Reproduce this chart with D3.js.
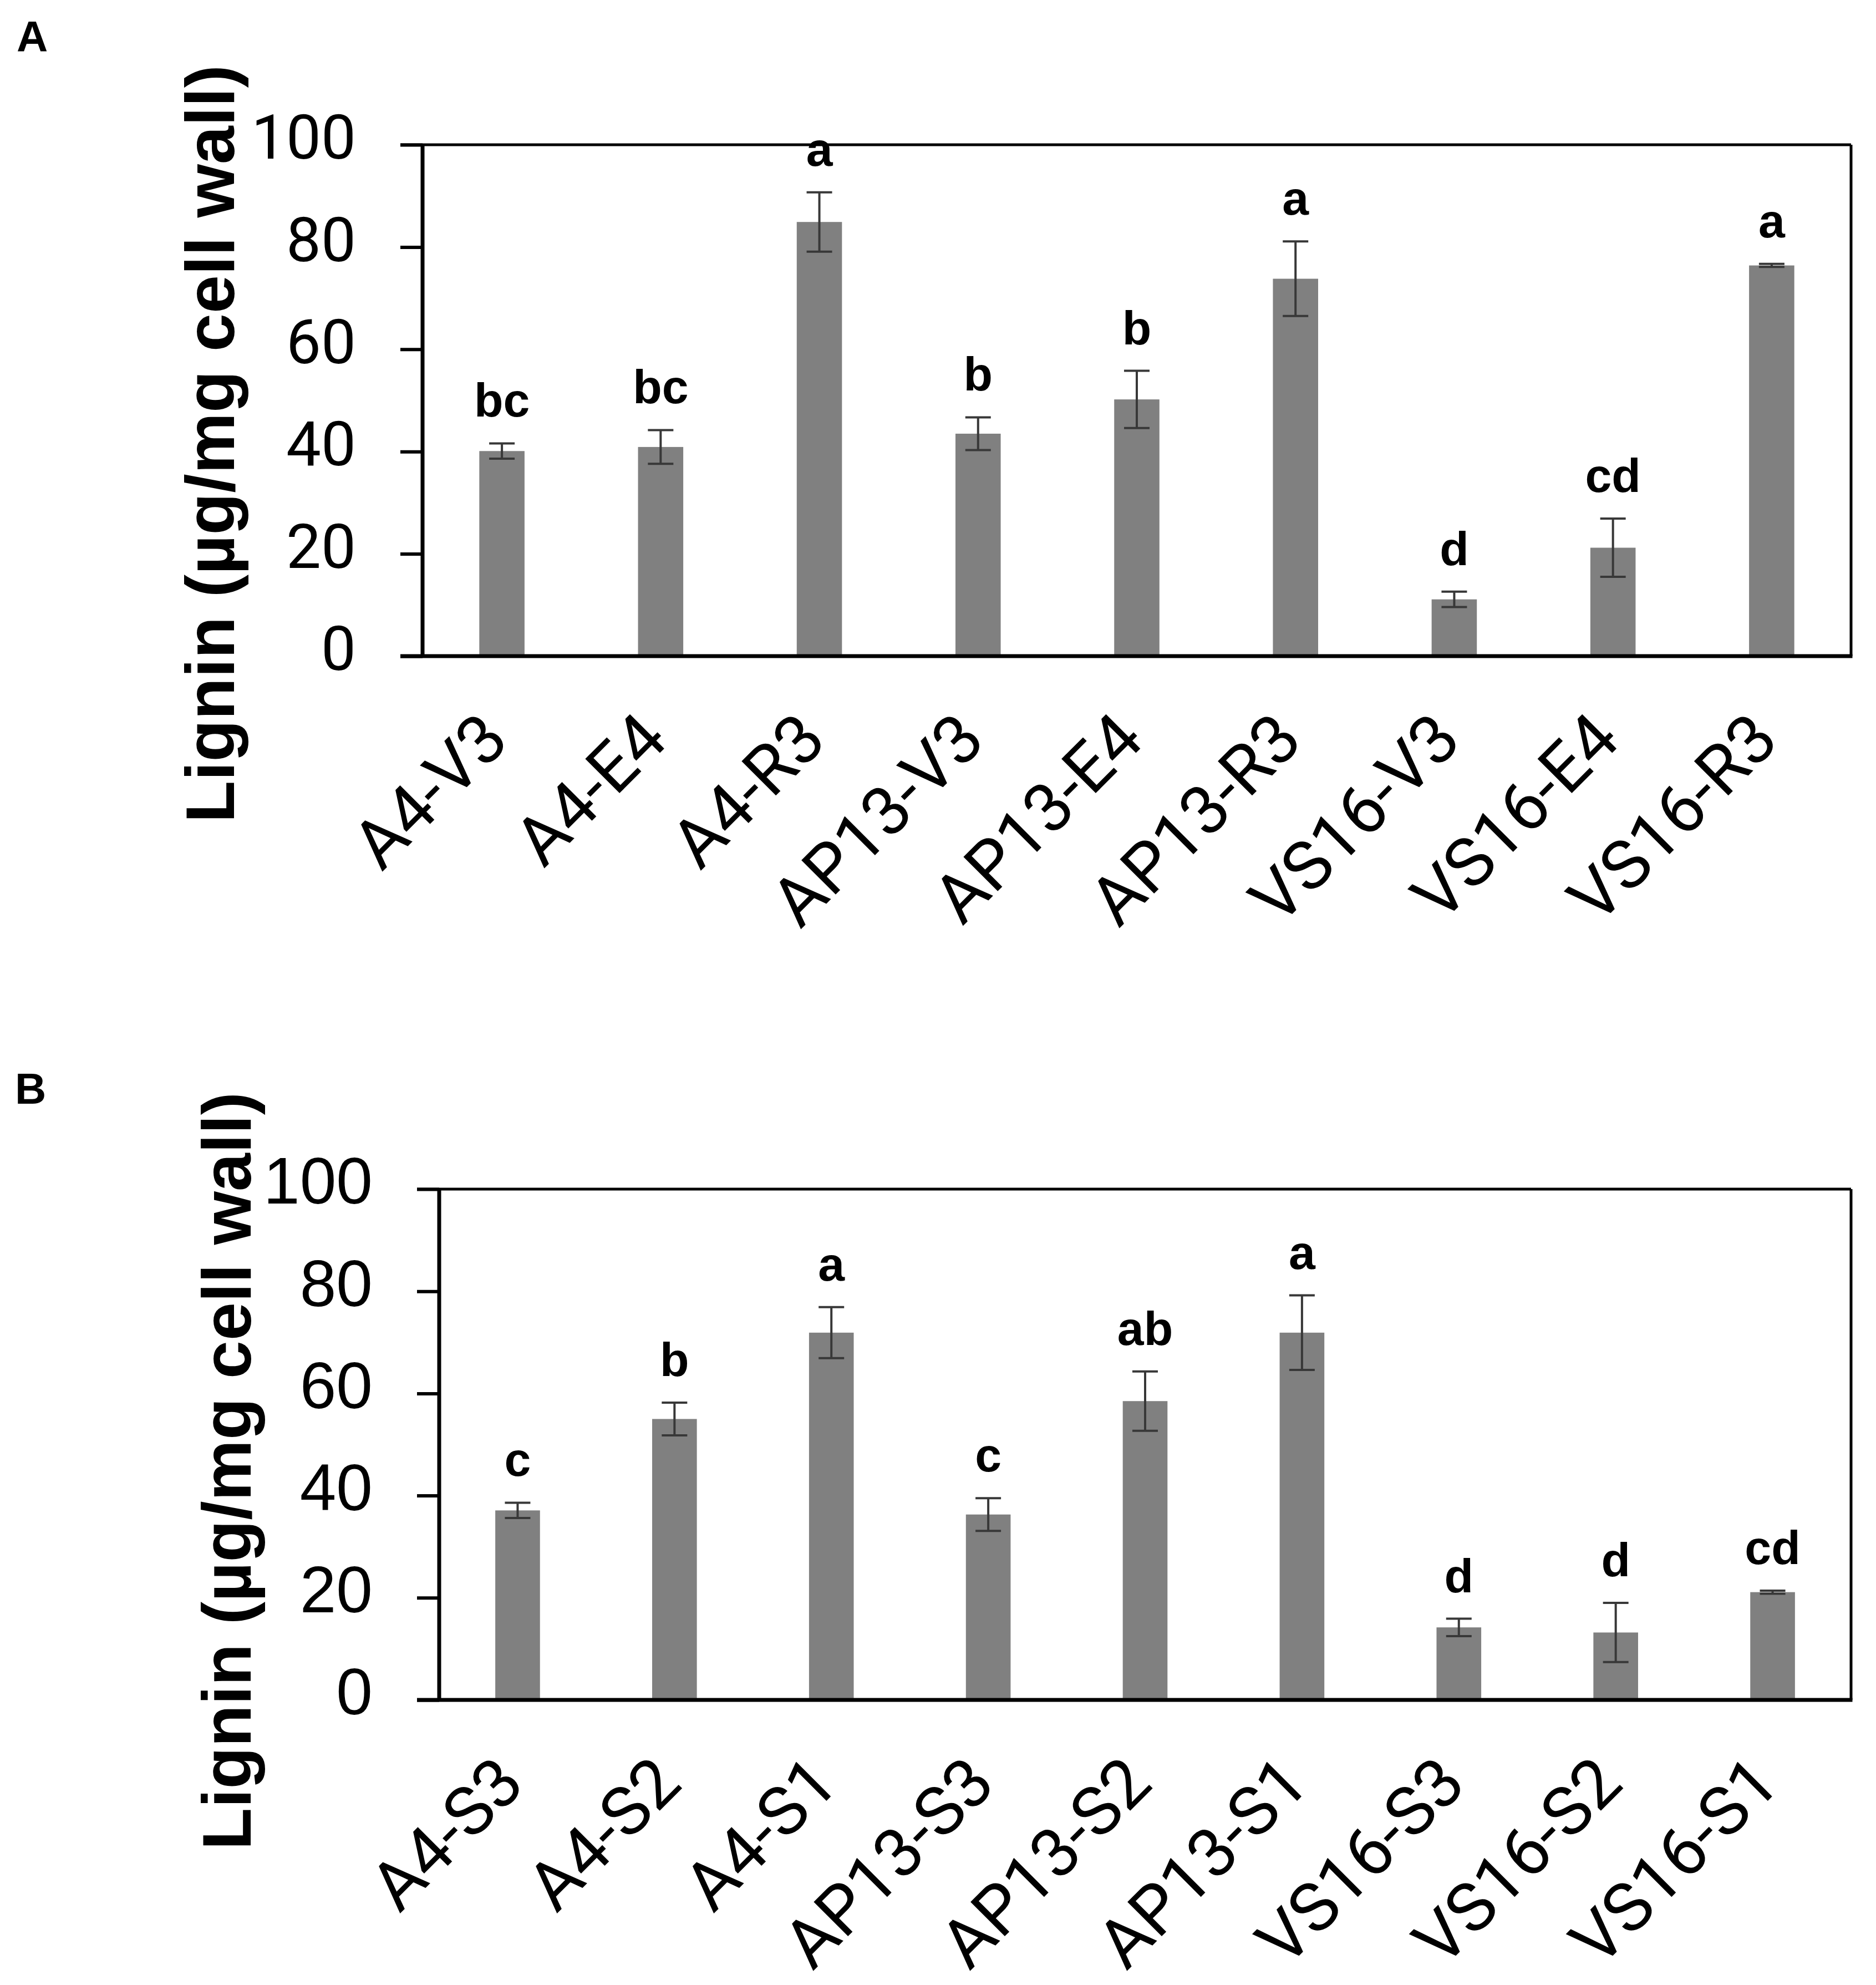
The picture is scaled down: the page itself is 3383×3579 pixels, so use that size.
<!DOCTYPE html>
<html>
<head>
<meta charset="utf-8">
<script src="https://cdn.jsdelivr.net/npm/d3@7"></script>
<style>
  body { margin: 0; background: #fff; }
</style>
</head>
<body>
<svg id="chart"></svg>
<script>
const yTicks = [0, 20, 40, 60, 80, 100];

// panel A - by growth stage
const categoriesA = ['A4-V3', 'A4-E4', 'A4-R3', 'AP13-V3', 'AP13-E4', 'AP13-R3', 'VS16-V3', 'VS16-E4', 'VS16-R3'];
const meansA = [40.1, 40.9, 84.9, 43.5, 50.2, 73.8, 11.1, 21.2, 76.4];
const errorsA = [1.5, 3.3, 5.8, 3.2, 5.6, 7.3, 1.5, 5.7, 0.3];
const lettersA = ['bc', 'bc', 'a', 'b', 'b', 'a', 'd', 'cd', 'a'];

// panel B - by segment
const categoriesB = ['A4-S3', 'A4-S2', 'A4-S1', 'AP13-S3', 'AP13-S2', 'AP13-S1', 'VS16-S3', 'VS16-S2', 'VS16-S1'];
const meansB = [37.1, 55.0, 71.9, 36.3, 58.5, 71.9, 14.2, 13.2, 21.1];
const errorsB = [1.5, 3.2, 5.0, 3.2, 5.8, 7.3, 1.7, 5.8, 0.3];
const lettersB = ['c', 'b', 'a', 'c', 'ab', 'a', 'd', 'd', 'cd'];

const yTitle = 'Lignin (\u00b5g/mg cell wall)';

class BarPanel {
  constructor(_config) {
    this.config = {
      svg: _config.svg,
      tag: _config.tag,
      tagPos: _config.tagPos,
      categories: _config.categories,
      left: _config.left,
      right: _config.right,
      top: _config.top,
      bottom: _config.bottom,
      titleEnd: _config.titleEnd,
      tickFont: _config.tickFont || 'Roboto, sans-serif',
      tickSize: _config.tickSize || 112
    };
    this.init();
  }

  init() {
    let vis = this;
    let c = vis.config;

    vis.g = c.svg.append('g');

    vis.x = d3.scaleBand()
      .domain(c.categories)
      .range([c.left, c.right])
      .paddingInner(0.715)
      .paddingOuter(0.3575);

    vis.y = d3.scaleLinear()
      .domain([0, 100])
      .range([c.bottom, c.top]);
  }

  render(means, errors, letters) {
    let vis = this;
    let c = vis.config;
    let rows = c.categories.map((k, i) => ({ k: k, v: means[i], e: errors[i], l: letters[i] }));

    // bars
    vis.g.append('g').selectAll('rect')
      .data(rows)
      .join('rect')
      .attr('x', d => vis.x(d.k))
      .attr('width', vis.x.bandwidth())
      .attr('y', d => vis.y(d.v))
      .attr('height', d => vis.y(0) - vis.y(d.v))
      .attr('fill', '#808080');

    // error bars
    let eb = vis.g.append('g')
      .attr('stroke', '#383838')
      .attr('stroke-width', 4);
    let cx = d => vis.x(d.k) + vis.x.bandwidth() / 2;
    eb.selectAll('.stem').data(rows).join('line')
      .attr('x1', cx).attr('x2', cx)
      .attr('y1', d => vis.y(d.v - d.e))
      .attr('y2', d => vis.y(d.v + d.e));
    eb.selectAll('.capHi').data(rows).join('line')
      .attr('x1', d => cx(d) - 23).attr('x2', d => cx(d) + 23)
      .attr('y1', d => vis.y(d.v + d.e)).attr('y2', d => vis.y(d.v + d.e));
    eb.selectAll('.capLo').data(rows).join('line')
      .attr('x1', d => cx(d) - 23).attr('x2', d => cx(d) + 23)
      .attr('y1', d => vis.y(d.v - d.e)).attr('y2', d => vis.y(d.v - d.e));

    // significance letters
    vis.g.append('g').selectAll('text')
      .data(rows)
      .join('text')
      .attr('x', cx)
      .attr('y', d => vis.y(d.v + d.e) - 48)
      .attr('text-anchor', 'middle')
      .style('font-family', '"Liberation Sans", Arial, sans-serif')
      .style('font-weight', 'bold')
      .style('font-size', '86px')
      .text(d => d.l);

    // y axis
    let yAxis = vis.g.append('g')
      .attr('transform', `translate(${c.left},0)`)
      .call(d3.axisLeft(vis.y).tickValues(yTicks).tickSize(40).tickPadding(80));
    yAxis.select('.domain').remove();
    yAxis.selectAll('line').attr('stroke', '#000').attr('stroke-width', 6);
    yAxis.selectAll('text')
      .attr('dy', '0.22em')
      .style('font-family', c.tickFont)
      .style('font-size', c.tickSize + 'px')
      .attr('fill', '#000');

    // x axis labels
    let xAxis = vis.g.append('g')
      .attr('transform', `translate(0,${c.bottom})`)
      .call(d3.axisBottom(vis.x).tickSize(0));
    xAxis.select('.domain').remove();
    xAxis.selectAll('text')
      .attr('x', 0).attr('y', 0).attr('dy', 0)
      .attr('transform', 'translate(17,156) rotate(-45)')
      .attr('text-anchor', 'end')
      .style('font-family', 'Roboto, sans-serif')
      .style('font-size', '123px')
      .attr('fill', '#000');

    // frame
    let frame = vis.g.append('g').attr('stroke', '#000').attr('fill', 'none');
    frame.append('line')
      .attr('x1', c.left - 40).attr('x2', c.right)
      .attr('y1', c.top).attr('y2', c.top)
      .attr('stroke-width', 5);
    frame.append('line')
      .attr('x1', c.right).attr('x2', c.right)
      .attr('y1', c.top).attr('y2', c.bottom)
      .attr('stroke-width', 5);
    frame.append('line')
      .attr('x1', c.left).attr('x2', c.left)
      .attr('y1', c.top).attr('y2', c.bottom)
      .attr('stroke-width', 7);
    frame.append('line')
      .attr('x1', c.left - 40).attr('x2', c.right + 2.5)
      .attr('y1', c.bottom).attr('y2', c.bottom)
      .attr('stroke-width', 7);

    // axis title
    vis.g.append('text')
      .attr('transform', `translate(${c.left - 340},${c.titleEnd}) rotate(-90)`)
      .attr('text-anchor', 'end')
      .style('font-family', '"Liberation Sans", Arial, sans-serif')
      .style('font-weight', 'bold')
      .style('font-size', '124px')
      .text(yTitle);

    // panel tag
    vis.g.append('text')
      .attr('x', c.tagPos[0])
      .attr('y', c.tagPos[1])
      .style('font-family', '"Liberation Sans", Arial, sans-serif')
      .style('font-weight', 'bold')
      .style('font-size', '78px')
      .text(c.tag);
  }
}

const svg = d3.select('#chart')
  .attr('width', 3383)
  .attr('height', 3579);

svg.append('rect')
  .attr('width', 3383)
  .attr('height', 3579)
  .attr('fill', '#fff');

const panelA = new BarPanel({
  svg: svg, tag: 'A', tagPos: [30, 93], categories: categoriesA,
  left: 762, right: 3338, top: 261, bottom: 1183,
  titleEnd: 117,
  tickFont: 'Roboto, sans-serif', tickSize: 112
});
panelA.render(meansA, errorsA, lettersA);

const panelB = new BarPanel({
  svg: svg, tag: 'B', tagPos: [27, 1990], categories: categoriesB,
  left: 792, right: 3338, top: 2144, bottom: 3065,
  titleEnd: 1969,
  tickFont: '"Liberation Sans", Arial, sans-serif', tickSize: 118
});
panelB.render(meansB, errorsB, lettersB);
</script>
</body>
</html>
